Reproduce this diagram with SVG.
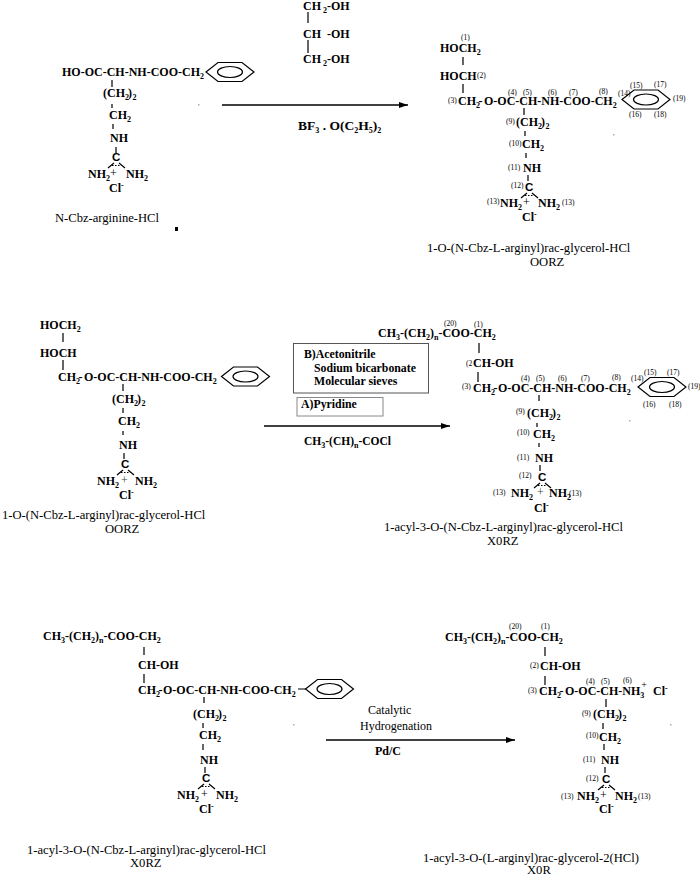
<svg xmlns="http://www.w3.org/2000/svg" width="700" height="876" viewBox="0 0 700 876">
<style>
text{font-family:"Liberation Serif","Times New Roman",serif;fill:#000}
.b{font-size:12px;font-weight:bold}
.r{font-size:12.6px}
.l{font-size:12px}
.n{font-size:7.5px}
.s{font-size:8px;font-weight:bold}
.c{font-family:"Liberation Sans",Arial,sans-serif;font-size:11.5px;font-weight:bold}
.p{font-size:12px}
.t{font-size:11.8px;font-weight:bold}
.bond{stroke:#000;stroke-width:1.2;fill:none}
.ring{stroke:#000;stroke-width:1.2;fill:none}
.arrow{stroke:#000;stroke-width:1.3;fill:none;marker-end:url(#head)}
.box{stroke:#555;stroke-width:1;fill:#fff}
.speck{fill:#aaa}
</style>
<defs>
<marker id="head" viewBox="0 0 9 6" refX="9" refY="3" markerWidth="9" markerHeight="6" markerUnits="userSpaceOnUse" orient="auto"><path d="M0 0L9 3L0 6Z" fill="#000"/></marker>
<g id="benz"><path class="ring" d="M-24 0L-12 -9.5H12L24 0L12 9.5H-12Z"/><ellipse class="ring" cx="0" cy="0" rx="12.5" ry="5.5"/></g>
<g id="roof"><path class="bond" d="M-8 7L-2 2M3 2L9 7" stroke-width="0.9"/><path class="bond" d="M-4 4.500H5" stroke-dasharray="1.5 1.5" stroke-width="0.8"/></g>
</defs>

<g id="reactant-1">
<text class="b" x="62" y="76">HO-OC-CH-NH-COO-CH<tspan class="s" dy="3">2</tspan></text>
<use href="#benz" x="230" y="72"/>
<path class="bond" d="M112 80V87M112 104V108M113 124V129M116 147V153"/>
<text class="b" x="103" y="97">(CH<tspan class="s" dy="3">2</tspan><tspan dx="-1" dy="-3">)</tspan><tspan class="s" dx="0.5" dy="3">2</tspan></text>
<text class="b" x="109" y="119">CH<tspan class="s" dy="3">2</tspan></text>
<text class="b" x="110" y="142">NH</text>
<text class="c" x="112" y="161">C</text>
<use href="#roof" x="116" y="161"/>
<text class="b" x="88" y="178">NH<tspan class="s" dy="3">2</tspan></text>
<text class="p" x="110" y="177">+</text>
<text class="b" x="126" y="178">NH<tspan class="s" dy="3">2</tspan></text>
<text class="b" x="109" y="192">Cl<tspan class="s" dy="-4">-</tspan></text>
<text class="r" x="55" y="222">N-Cbz-arginine-HCl</text>
<rect x="175" y="227" width="3" height="4" fill="#000"/>
<rect class="speck" x="198" y="104" width="1.5" height="1.5"/>
</g>

<g id="glycerol">
<text class="b" x="303" y="10">CH<tspan class="s" x="323" y="13">2</tspan><tspan x="327" y="10">-OH</tspan></text>
<text class="b" x="303" y="38">CH<tspan x="327">-OH</tspan></text>
<text class="b" x="303" y="63">CH<tspan class="s" x="323" y="66">2</tspan><tspan x="327" y="63">-OH</tspan></text>
<path class="bond" d="M308 12V23M308 40V53"/>
</g>

<g id="product-OORZ">
<text class="n" x="461" y="40">(1)</text>
<text class="b" x="440" y="52">HOCH<tspan class="s" dy="3">2</tspan></text>
<text class="b" x="440" y="80">HOCH</text>
<text class="n" x="477" y="78">(2)</text>
<path class="bond" d="M463 57V65M463 84V93M524 108V115M525 131V136M526 153V158M528 175V181"/>
<text class="n" x="448" y="103">(3)</text>
<text class="b" x="458" y="105">CH<tspan class="s" dy="3">2</tspan><tspan dx="-1.5" dy="-3">-</tspan></text>
<text class="b" x="484" y="105">O-OC-CH-NH-COO-CH<tspan class="s" dy="3">2</tspan></text>
<use href="#benz" x="646" y="99.500"/>
<text class="n" x="508" y="95">(4)</text><text class="n" x="523" y="95">(5)</text><text class="n" x="548" y="95">(6)</text><text class="n" x="569" y="95">(7)</text><text class="n" x="599" y="94">(8)</text><text class="n" x="618" y="96">(14)</text><text class="n" x="630" y="88">(15)</text><text class="n" x="654" y="87">(17)</text><text class="n" x="673" y="101">(19)</text><text class="n" x="629" y="117">(16)</text><text class="n" x="654" y="117">(18)</text>
<text class="n" x="506" y="124">(9)</text>
<text class="b" x="516" y="126">(CH<tspan class="s" dy="3">2</tspan><tspan dx="-1" dy="-3">)</tspan><tspan class="s" dx="0.5" dy="3">2</tspan></text>
<text class="n" x="509" y="146">(10)</text>
<text class="b" x="522" y="148">CH<tspan class="s" dy="3">2</tspan></text>
<text class="n" x="508" y="170">(11)</text>
<text class="b" x="523" y="172">NH</text>
<text class="n" x="511" y="188">(12)</text>
<text class="c" x="525" y="191">C</text>
<use href="#roof" x="529" y="191"/>
<text class="n" x="487" y="204">(13)</text>
<text class="b" x="500" y="207">NH<tspan class="s" dy="3">2</tspan></text>
<text class="p" x="523" y="206">+</text>
<text class="b" x="538" y="207">NH<tspan class="s" dy="3">2</tspan></text>
<text class="n" x="562" y="205">(13)</text>
<text class="b" x="522" y="221">Cl<tspan class="s" dy="-4">-</tspan></text>
<text class="r" x="427" y="252">1-O-(N-Cbz-L-arginyl)rac-glycerol-HCl</text>
<text class="r" x="530" y="266">OORZ</text>
<rect class="speck" x="613" y="134" width="1.5" height="1.5"/>
</g>

<g id="reactant-2">
<text class="b" x="40" y="329">HOCH<tspan class="s" dy="3">2</tspan></text>
<text class="b" x="40" y="357">HOCH</text>
<path class="bond" d="M63 333V342M63 360V370M123 384V391M123 408V413M123 431V435M124 453V459"/>
<text class="b" x="58" y="381">CH<tspan class="s" dy="3">2</tspan><tspan dx="-1.5" dy="-3">-</tspan></text>
<text class="b" x="84" y="381">O-OC-CH-NH-COO-CH<tspan class="s" dy="3">2</tspan></text>
<use href="#benz" x="245.500" y="376.500"/>
<text class="b" x="112" y="403">(CH<tspan class="s" dy="3">2</tspan><tspan dx="-1" dy="-3">)</tspan><tspan class="s" dx="0.5" dy="3">2</tspan></text>
<text class="b" x="118" y="425">CH<tspan class="s" dy="3">2</tspan></text>
<text class="b" x="119" y="449">NH</text>
<text class="c" x="121" y="468">C</text>
<use href="#roof" x="125" y="468"/>
<text class="b" x="97" y="485">NH<tspan class="s" dy="3">2</tspan></text>
<text class="p" x="121" y="484" style="fill:#444">+</text>
<text class="b" x="135" y="485">NH<tspan class="s" dy="3">2</tspan></text>
<text class="b" x="119" y="499">Cl<tspan class="s" dy="-4">-</tspan></text>
<text class="r" x="2" y="519">1-O-(N-Cbz-L-arginyl)rac-glycerol-HCl</text>
<text class="r" x="105" y="533">OORZ</text>
</g>

<g id="conditions-B">
<rect class="box" x="293.500" y="343.500" width="135" height="49.500"/>
<text class="t" x="304" y="358">B)Acetonitrile</text>
<text class="t" x="314" y="372">Sodium bicarbonate</text>
<text class="t" x="314" y="385">Molecular sieves</text>
</g>
<g id="conditions-A">
<rect class="box" x="297" y="397.500" width="86" height="18.500" style="stroke:#888"/>
<text class="t" x="301" y="408">A)Pyridine</text>
</g>

<g id="product-X0RZ">
<text class="n" x="444" y="326">(20)</text><text class="n" x="474" y="327">(1)</text>
<text class="b" x="378" y="337">CH<tspan class="s" dy="3">3</tspan><tspan dy="-3">-(CH</tspan><tspan class="s" dy="3">2</tspan><tspan dy="-3">)</tspan><tspan class="s" dy="3">n</tspan><tspan dy="-3">-COO-CH</tspan><tspan class="s" dy="3">2</tspan></text>
<path class="bond" d="M479 343V353M478 372V382M539 395V401M537 423V427M539 443V447M540 465V471"/>
<text class="n" x="466" y="366">(2</text>
<text class="b" x="473" y="367">CH-OH</text>
<text class="n" x="462" y="389">(3)</text>
<text class="b" x="473" y="392">CH<tspan class="s" dy="3">2</tspan><tspan dx="-1.5" dy="-3">-</tspan></text>
<text class="b" x="498" y="392">O-OC-CH-NH-COO-CH<tspan class="s" dy="3">2</tspan></text>
<use href="#benz" x="662" y="387"/>
<text class="n" x="521" y="381">(4)</text><text class="n" x="536" y="381">(5)</text><text class="n" x="558" y="381">(6)</text><text class="n" x="581" y="381">(7)</text><text class="n" x="612" y="380">(8)</text><text class="n" x="631" y="381">(14)</text><text class="n" x="644" y="375">(15)</text><text class="n" x="667" y="375">(17)</text><text class="n" x="688" y="389">(19)</text><text class="n" x="643" y="407">(16)</text><text class="n" x="669" y="407">(18)</text>
<text class="n" x="516" y="414">(9)</text>
<text class="b" x="527" y="417">(CH<tspan class="s" dy="3">2</tspan><tspan dx="-1" dy="-3">)</tspan><tspan class="s" dx="0.5" dy="3">2</tspan></text>
<text class="n" x="517" y="435">(10)</text>
<text class="b" x="533" y="438">CH<tspan class="s" dy="3">2</tspan></text>
<text class="n" x="517" y="460">(11)</text>
<text class="b" x="535" y="462">NH</text>
<text class="n" x="519" y="478">(12)</text>
<text class="c" x="538" y="481">C</text>
<use href="#roof" x="542" y="481"/>
<text class="n" x="493" y="495">(13)</text>
<text class="b" x="511" y="497">NH<tspan class="s" dy="3">2</tspan></text>
<text class="p" x="537" y="496" style="fill:#444">+</text>
<text class="b" x="549" y="497">NH<tspan class="s" dy="3">2</tspan></text>
<text class="n" x="569" y="496">(13)</text>
<text class="b" x="534" y="512">Cl<tspan class="s" dy="-4">-</tspan></text>
<text class="r" x="384" y="531">1-acyl-3-O-(N-Cbz-L-arginyl)rac-glycerol-HCl</text>
<text class="r" x="487" y="545">X0RZ</text>
<rect class="speck" x="629" y="420" width="1.5" height="1.5"/>
</g>

<g id="reactant-3">
<text class="b" x="43" y="640">CH<tspan class="s" dy="3">3</tspan><tspan dy="-3">-(CH</tspan><tspan class="s" dy="3">2</tspan><tspan dy="-3">)</tspan><tspan class="s" dy="3">n</tspan><tspan dy="-3">-COO-CH</tspan><tspan class="s" dy="3">2</tspan></text>
<path class="bond" d="M144 647V655M144 674V683M204 697V703M203 723V728M203 744V750M205 767V773M298 689H306"/>
<text class="b" x="138" y="669">CH-OH</text>
<text class="b" x="138" y="694">CH<tspan class="s" dy="3">2</tspan><tspan dx="-1.5" dy="-3">-</tspan></text>
<text class="b" x="163" y="694">O-OC-CH-NH-COO-CH<tspan class="s" dy="3">2</tspan></text>
<use href="#benz" x="329.500" y="689"/>
<text class="b" x="193" y="718">(CH<tspan class="s" dy="3">2</tspan><tspan dx="-1" dy="-3">)</tspan><tspan class="s" dx="0.5" dy="3">2</tspan></text>
<text class="b" x="199" y="739">CH<tspan class="s" dy="3">2</tspan></text>
<text class="b" x="200" y="764">NH</text>
<text class="c" x="202" y="782">C</text>
<use href="#roof" x="206" y="782"/>
<text class="b" x="177" y="799">NH<tspan class="s" dy="3">2</tspan></text>
<text class="p" x="201" y="798">+</text>
<text class="b" x="216" y="799">NH<tspan class="s" dy="3">2</tspan></text>
<text class="b" x="199" y="813">Cl<tspan class="s" dy="-4">-</tspan></text>
<text class="r" x="27" y="854">1-acyl-3-O-(N-Cbz-L-arginyl)rac-glycerol-HCl</text>
<text class="r" x="130" y="867">X0RZ</text>
<rect class="speck" x="293" y="724" width="1.5" height="1.5"/>
</g>

<g id="product-X0R">
<text class="n" x="509" y="629">(20)</text><text class="n" x="541" y="629">(1)</text>
<text class="b" x="445" y="641">CH<tspan class="s" dy="3">3</tspan><tspan dy="-3">-(CH</tspan><tspan class="s" dy="3">2</tspan><tspan dy="-3">)</tspan><tspan class="s" dy="3">n</tspan><tspan dy="-3">-COO-CH</tspan><tspan class="s" dy="3">2</tspan></text>
<path class="bond" d="M545 647V656M545 676V685M606 699V707M603 723V729M604 744V750M605 767V773"/>
<text class="n" x="530" y="668">(2)</text>
<text class="b" x="540" y="670">CH-OH</text>
<text class="n" x="528" y="693">(3)</text>
<text class="b" x="539" y="695">CH<tspan class="s" dy="3">2</tspan><tspan dx="-1.5" dy="-3">-</tspan></text>
<text class="b" x="565" y="695">O-OC-CH-NH<tspan class="s" dy="3">3</tspan><tspan class="s" dx="-3" dy="-10" style="font-size:10px;font-weight:normal">+</tspan></text>
<text class="b" x="653" y="695">Cl<tspan class="s" dy="-4">-</tspan></text>
<text class="n" x="586" y="684">(4)</text><text class="n" x="601" y="684">(5)</text><text class="n" x="623" y="683">(6)</text>
<text class="n" x="582" y="716">(9)</text>
<text class="b" x="593" y="718">(CH<tspan class="s" dy="3">2</tspan><tspan dx="-1" dy="-3">)</tspan><tspan class="s" dx="0.5" dy="3">2</tspan></text>
<text class="n" x="586" y="738">(10)</text>
<text class="b" x="599" y="741">CH<tspan class="s" dy="3">2</tspan></text>
<text class="n" x="583" y="762">(11)</text>
<text class="b" x="601" y="764">NH</text>
<text class="n" x="586" y="781">(12)</text>
<text class="c" x="602" y="783">C</text>
<use href="#roof" x="606" y="783"/>
<text class="n" x="561" y="799">(13)</text>
<text class="b" x="577" y="800">NH<tspan class="s" dy="3">2</tspan></text>
<text class="p" x="600" y="799">+</text>
<text class="b" x="615" y="800">NH<tspan class="s" dy="3">2</tspan></text>
<text class="n" x="638" y="799">(13)</text>
<text class="b" x="599" y="813">Cl<tspan class="s" dy="-4">-</tspan></text>
<text class="r" x="423" y="862">1-acyl-3-O-(L-arginyl)rac-glycerol-2(HCl)</text>
<text class="r" x="527" y="874">X0R</text>
<rect class="speck" x="670" y="724" width="1.5" height="1.5"/>
</g>

<g id="arrow-labels">
<text class="b" x="298" y="130" style="font-size:13.500px">BF<tspan class="s" dy="3">3</tspan><tspan dy="-3"> . O(C</tspan><tspan class="s" dy="3">2</tspan><tspan dy="-3">H</tspan><tspan class="s" dy="3">5</tspan><tspan dy="-3">)</tspan><tspan class="s" dy="3">2</tspan></text>
<text class="b" x="304" y="445" style="font-size:11.500px">CH<tspan class="s" dy="3">3</tspan><tspan dy="-3">-(CH)</tspan><tspan class="s" dy="3">n</tspan><tspan dy="-3">-COCl</tspan></text>
<text class="l" x="368" y="714">Catalytic</text>
<text class="l" x="360" y="730">Hydrogenation</text>
<text class="b" x="375" y="755">Pd/C</text>
</g>

<g id="connectors">
<path class="arrow" d="M222 105H408"/>
<path class="arrow" d="M264 426H450"/>
<path class="arrow" d="M326 740H515"/>
</g>
</svg>
